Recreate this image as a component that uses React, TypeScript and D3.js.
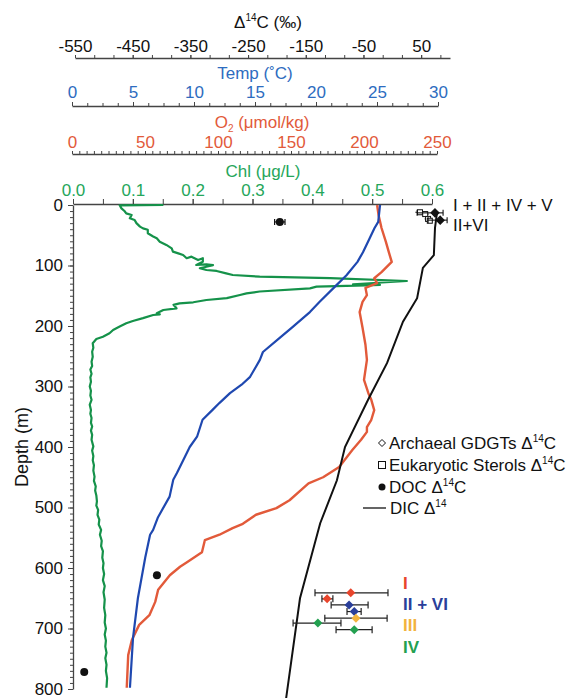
import React, { useEffect, useRef } from 'react'
import * as d3 from 'd3'

// depth (m), value
const chlProfile: [number, number][] = [
  [0, 0.151], [0.5, 0.078], [5.5, 0.081], [10, 0.086], [13.8, 0.089], [16.5, 0.098], [22, 0.095],
  [24.8, 0.103], [30, 0.106], [35.8, 0.112], [38.6, 0.117], [41, 0.125], [46.8, 0.125],
  [52, 0.134], [55, 0.14], [60.6, 0.145], [66, 0.156], [71.6, 0.165], [77, 0.167],
  [80, 0.176], [82.6, 0.184], [88, 0.19], [85.4, 0.198], [91, 0.209], [88, 0.217],
  [93.7, 0.217], [99, 0.206], [98, 0.223], [99.5, 0.234], [104.6, 0.212], [107.4, 0.223],
  [109, 0.24], [113, 0.256], [115.7, 0.267], [118.5, 0.312], [121, 0.43], [125.6, 0.558],
  [131, 0.468], [132, 0.513], [133, 0.49], [135, 0.407], [137.7, 0.396], [143, 0.312],
  [146, 0.29], [148.8, 0.279], [154, 0.257], [157, 0.223], [160.8, 0.201], [162.5, 0.178],
  [165, 0.168], [170.8, 0.173], [173.6, 0.151], [179, 0.14], [180.7, 0.145], [181.8, 0.134],
  [187, 0.117], [191.7, 0.1], [195.5, 0.089], [201, 0.078], [206.6, 0.067], [212, 0.061],
  [217.7, 0.05], [221.5, 0.039], [228.6, 0.033], [236, 0.034], [242.5, 0.032], [251, 0.033],
  [259, 0.031], [266, 0.032], [272, 0.029], [279, 0.031], [285, 0.029], [292, 0.03],
  [300, 0.028], [307, 0.03], [315, 0.029], [322, 0.031], [330, 0.028], [339, 0.03],
  [345, 0.029], [352, 0.031], [360, 0.03], [366, 0.032], [373, 0.03], [380, 0.032],
  [388, 0.031], [399, 0.034], [406, 0.032], [415, 0.034], [422, 0.033], [430, 0.035],
  [439, 0.034], [449, 0.036], [456, 0.035], [465, 0.038], [472, 0.037], [480, 0.039],
  [490, 0.04], [497, 0.039], [504, 0.042], [512, 0.041], [520, 0.044], [528, 0.043],
  [537, 0.047], [545, 0.045], [555, 0.048], [564, 0.047], [572, 0.05], [583, 0.049],
  [592, 0.051], [600, 0.05], [610, 0.052], [620, 0.05], [630, 0.053], [640, 0.051],
  [652, 0.053], [666, 0.052], [678, 0.054], [690, 0.053], [700, 0.055], [710, 0.053],
  [720, 0.055], [730, 0.054], [740, 0.056], [749, 0.054], [760, 0.056], [770, 0.055],
  [782, 0.057], [798, 0.056],
]

const tempProfile: [number, number][] = [
  [0, 25.25], [28, 25.1], [38, 24.8], [55, 24.4], [78, 23.85], [94, 23.4], [116, 22.5],
  [132, 21.7], [160, 20.3], [177, 19.5], [203, 18.0], [220, 17.0], [243, 15.65],
  [256, 15.4], [284, 14.6], [297, 13.9], [311, 12.95], [327, 12.1], [339, 11.5],
  [355, 10.7], [383, 10.25], [400, 9.65], [443, 8.6], [454, 8.3], [482, 8.0],
  [516, 7.05], [537, 6.65], [545, 6.4], [583, 6.0], [650, 5.4], [716, 5.0], [798, 4.75],
]

const o2Profile: [number, number][] = [
  [0, 209], [17, 210], [38, 212], [61, 215], [78, 217], [94, 219], [111, 212], [121, 207],
  [129, 209], [137, 201], [149, 202], [160, 199], [177, 197], [203, 199], [231, 201],
  [256, 202], [289, 200], [311, 203], [322, 205], [339, 207], [355, 205], [367, 202],
  [375, 202], [388, 198], [405, 192], [433, 183], [450, 172], [460, 162], [471, 157],
  [488, 149], [501, 140], [512, 126], [527, 117], [534, 110], [545, 101], [554, 91],
  [574, 89], [590, 79], [598, 74], [612, 67], [636, 59], [656, 57], [678, 53],
  [694, 46], [719, 41], [744, 38.5], [798, 37.5],
]

const dicProfile: [number, number][] = [
  [12, 77.5], [38, 74], [83, 72], [104, 53], [154, 43], [193, 18.5], [261, -9],
  [322, -42], [400, -82], [455, -96], [526, -125], [650, -160], [815, -184],
]

// depth, Δ14C, error
const docPoints: [number, number, number][] = [
  [28, -195, 9], [612, -408, 0], [772, -534, 0],
]

const sterolPoints: [number, number, number][] = [
  [12, 48, 8], [15, 57, 6], [23, 62, 6], [26, 65, 5],
]

const gdgtSurface: [number, number, number, number][] = [
  [13, 74, 43, 88], [25, 83, 62, 95],
]

// depth, Δ14C, low, high, group
const gdgtDeep: [number, number, number, number, string][] = [
  [641, -72, -134, -7.5, 'I'],
  [651, -113, -122, -103, 'I'],
  [661, -75, -106, -42, 'II'],
  [672, -66, -78.5, -54, 'II'],
  [683, -63, -117, -9, 'III'],
  [691, -129, -172, -89, 'IV'],
  [702, -66, -97.5, -35, 'IV'],
]

const d14Ticks = [-550, -450, -350, -250, -150, -50, 50]
const tempTicks = [0, 5, 10, 15, 20, 25, 30]
const o2Ticks = [0, 50, 100, 150, 200, 250]
const chlTicks = [0, 0.1, 0.2, 0.3, 0.4, 0.5, 0.6]
const depthTicks = [0, 100, 200, 300, 400, 500, 600, 700, 800]

const FONT = '"Liberation Sans", Arial, Helvetica, sans-serif'
const BLUE = '#1f48b0'
const BLUE_TXT = '#2e6cc0'
const RED = '#e25a3a'
const GREEN = '#15924a'
const GREEN_TXT = '#25a65a'
const groupColor: Record<string, string> = {
  I: '#e8452c', II: '#2a3f9a', III: '#f2b33d', IV: '#23a050',
}

const depth = d3.scaleLinear().domain([0, 800]).range([205, 689])
const xD = d3.scaleLinear().domain([-550, 100]).range([75, 450])
const xT = d3.scaleLinear().domain([0, 30]).range([72, 438])
const xO = d3.scaleLinear().domain([0, 250]).range([72, 437])
const xC = d3.scaleLinear().domain([0, 0.6]).range([73, 432])

function lineFor(sx: d3.ScaleLinear<number, number>) {
  return d3.line<[number, number]>().x(d => sx(d[1])).y(d => depth(d[0]))
}

function diamond(cx: number, cy: number, r: number) {
  return `M${cx},${cy - r}L${cx + r},${cy}L${cx},${cy + r}L${cx - r},${cy}Z`
}

export default function App() {
  const axD = useRef<SVGGElement>(null)
  const axT = useRef<SVGGElement>(null)
  const axO = useRef<SVGGElement>(null)
  const axC = useRef<SVGGElement>(null)
  const axY = useRef<SVGGElement>(null)

  useEffect(() => {
    const draw = (
      el: SVGGElement | null,
      major: d3.Axis<d3.NumberValue>,
      minor: d3.Axis<d3.NumberValue>,
      color: string,
      size: number
    ) => {
      const g = d3.select(el)
      g.selectAll('*').remove()
      const gm = g.append('g').call(minor)
      gm.select('.domain').remove()
      const gM = g.append('g').call(major)
      g.attr('font-family', FONT)
      gM.attr('font-family', FONT).attr('font-size', size)
      gM.selectAll('text').attr('fill', color)
      g.selectAll('line').attr('stroke', '#444').attr('stroke-width', 1)
      g.selectAll('path.domain').attr('stroke', '#444').attr('stroke-width', 1.3)
    }
    const num = (d: d3.NumberValue) => `${+d}`

    draw(axD.current,
      d3.axisTop(xD).tickValues(d14Ticks).tickSize(3).tickSizeOuter(0).tickPadding(3).tickFormat(num),
      d3.axisTop(xD).tickValues(d3.range(0, 20).map(i => -550 + (i * 100) / 3)).tickSize(3).tickFormat(() => ''),
      '#111', 17)
    draw(axT.current,
      d3.axisTop(xT).tickValues(tempTicks).tickSize(4).tickSizeOuter(0).tickPadding(4).tickFormat(num),
      d3.axisTop(xT).tickValues(d3.range(0, 25).map(i => i * 1.25)).tickSize(3).tickFormat(() => ''),
      BLUE_TXT, 17)
    draw(axO.current,
      d3.axisTop(xO).tickValues(o2Ticks).tickSize(3).tickSizeOuter(0).tickPadding(3).tickFormat(num),
      d3.axisTop(xO).tickValues(d3.range(0, 51).map(i => i * 5)).tickSize(3).tickFormat(() => ''),
      RED, 17)
    draw(axC.current,
      d3.axisTop(xC).tickValues(chlTicks).tickSize(5).tickSizeOuter(0).tickPadding(3).tickFormat(d3.format('.1f')),
      d3.axisTop(xC).tickValues(d3.range(0, 13).map(i => i * 0.05)).tickSize(5).tickFormat(() => ''),
      GREEN_TXT, 17)
    draw(axY.current,
      d3.axisLeft(depth).tickValues(depthTicks).tickSize(5).tickSizeOuter(0).tickPadding(5).tickFormat(num),
      d3.axisLeft(depth).tickValues(d3.range(0, 81).map(i => i * 10)).tickSize(3).tickFormat(() => ''),
      '#111', 17)
  }, [])

  const sup = (s: string) => (
    <tspan fontSize={10} dy={-7}>{s}</tspan>
  )

  return (
    <svg width={569} height={698} style={{ position: 'absolute', left: 0, top: 0, background: '#fff' }}
      fontFamily={FONT}>
      {/* axis titles */}
      <text x={268} y={28} fontSize={17} textAnchor="middle" fill="#111">
        Δ{sup('14')}<tspan dy={7}>C (‰)</tspan>
      </text>
      <text x={255} y={79} fontSize={17} textAnchor="middle" fill={BLUE_TXT}>Temp (˚C)</text>
      <text x={262} y={128} fontSize={17} textAnchor="middle" fill={RED}>
        O<tspan fontSize={10} dy={4}>2</tspan><tspan dy={-4}> (μmol/kg)</tspan>
      </text>
      <text x={263} y={177} fontSize={17} textAnchor="middle" fill={GREEN_TXT}>Chl (μg/L)</text>

      <g ref={axD} transform="translate(0,58)" />
      <g ref={axT} transform="translate(0,106)" />
      <g ref={axO} transform="translate(0,154)" />
      <g ref={axC} transform="translate(0,204)" />
      <g ref={axY} transform="translate(73,0)" />

      <text transform="translate(28,447) rotate(-90)" fontSize={18} textAnchor="middle" fill="#111">Depth (m)</text>

      {/* profiles */}
      <path d={lineFor(xC)(chlProfile) ?? ''} fill="none" stroke={GREEN} strokeWidth={2.2} strokeLinejoin="round" />
      <path d={lineFor(xO)(o2Profile) ?? ''} fill="none" stroke={RED} strokeWidth={2.4} strokeLinejoin="round" />
      <path d={lineFor(xT)(tempProfile) ?? ''} fill="none" stroke={BLUE} strokeWidth={2.2} strokeLinejoin="round" />
      <path d={lineFor(xD)(dicProfile) ?? ''} fill="none" stroke="#111" strokeWidth={2} />

      {/* DOC */}
      {docPoints.map(([dep, v, e], i) => (
        <g key={`doc${i}`}>
          {e > 0 && (
            <g stroke="#111" strokeWidth={1.2}>
              <line x1={xD(v - e)} x2={xD(v + e)} y1={depth(dep)} y2={depth(dep)} />
              <line x1={xD(v - e)} x2={xD(v - e)} y1={depth(dep) - 3} y2={depth(dep) + 3} />
              <line x1={xD(v + e)} x2={xD(v + e)} y1={depth(dep) - 3} y2={depth(dep) + 3} />
            </g>
          )}
          <circle cx={xD(v)} cy={depth(dep)} r={4} fill="#111" />
        </g>
      ))}

      {/* surface sterols and GDGTs */}
      {sterolPoints.map(([dep, v, e], i) => (
        <g key={`st${i}`} stroke="#111" strokeWidth={1}>
          <line x1={xD(v - e)} x2={xD(v + e)} y1={depth(dep)} y2={depth(dep)} />
          <rect x={xD(v) - 2.5} y={depth(dep) - 2.5} width={5} height={5} fill="#fff" />
        </g>
      ))}
      {gdgtSurface.map(([dep, v, lo, hi], i) => (
        <g key={`gs${i}`} stroke="#111" strokeWidth={1.1}>
          <line x1={xD(lo)} x2={xD(hi)} y1={depth(dep)} y2={depth(dep)} />
          <line x1={xD(lo)} x2={xD(lo)} y1={depth(dep) - 3} y2={depth(dep) + 3} />
          <line x1={xD(hi)} x2={xD(hi)} y1={depth(dep) - 3} y2={depth(dep) + 3} />
          <path d={diamond(xD(v), depth(dep), 4)} fill="#111" />
        </g>
      ))}
      <text x={453} y={211} fontSize={17} fill="#111">I + II + IV + V</text>
      <text x={453} y={231} fontSize={17} fill="#111">II+VI</text>

      {/* deep GDGTs */}
      {gdgtDeep.map(([dep, v, lo, hi, grp], i) => (
        <g key={`gd${i}`}>
          <g stroke="#222" strokeWidth={1.2}>
            <line x1={xD(lo)} x2={xD(hi)} y1={depth(dep)} y2={depth(dep)} />
            <line x1={xD(lo)} x2={xD(lo)} y1={depth(dep) - 3.5} y2={depth(dep) + 3.5} />
            <line x1={xD(hi)} x2={xD(hi)} y1={depth(dep) - 3.5} y2={depth(dep) + 3.5} />
          </g>
          <path d={diamond(xD(v), depth(dep), 4.5)} fill={groupColor[grp]} />
        </g>
      ))}
      <g fontSize={17} fontWeight="bold">
        <text x={403} y={589} fill={groupColor.I}>I</text>
        <text x={403} y={610} fill={groupColor.II}>II + VI</text>
        <text x={403} y={631} fill={groupColor.III}>III</text>
        <text x={403} y={653} fill={groupColor.IV}>IV</text>
      </g>

      {/* legend */}
      <g fontSize={17} fill="#111">
        <path d={diamond(382, 443, 3.5)} fill="#fff" stroke="#111" strokeWidth={1} />
        <text x={389} y={449}>Archaeal GDGTs Δ{sup('14')}<tspan dy={7}>C</tspan></text>
        <rect x={378.5} y={461.5} width={7} height={7} fill="#fff" stroke="#111" strokeWidth={1} />
        <text x={389} y={471}>Eukaryotic Sterols Δ{sup('14')}<tspan dy={7}>C</tspan></text>
        <circle cx={382} cy={487} r={3.5} fill="#111" />
        <text x={389} y={493}>DOC Δ{sup('14')}<tspan dy={7}>C</tspan></text>
        <line x1={363} x2={386} y1={508} y2={508} stroke="#111" strokeWidth={1.3} />
        <text x={390} y={514}>DIC Δ{sup('14')}</text>
      </g>
    </svg>
  )
}
